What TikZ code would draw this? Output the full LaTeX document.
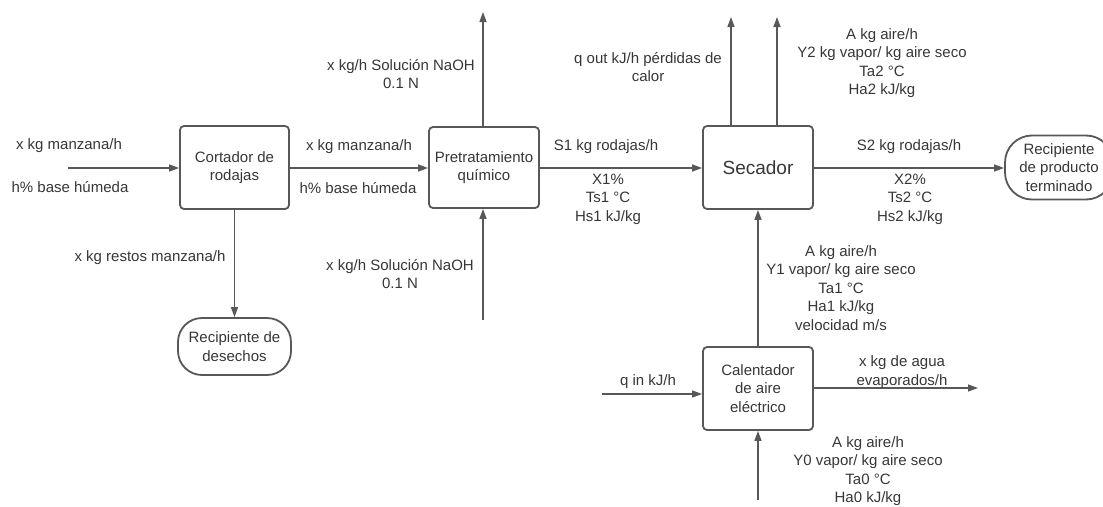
\documentclass[tikz,border=0pt]{standalone}
\usepackage{fontspec}
\setmainfont{Liberation Sans}
\usetikzlibrary{arrows.meta}
\definecolor{linec}{RGB}{88,88,88}
\definecolor{textc}{RGB}{55,55,55}
\tikzset{
  unit/.style={draw=linec, line width=1.8pt, rounded corners=4pt, text=textc,
    align=center, inner sep=2pt, font=\fontsize{15}{18.5}\selectfont},
  term/.style={draw=linec, line width=1.8pt, text=textc,
    align=center, inner sep=2pt, font=\fontsize{15}{18.5}\selectfont},
  lab/.style={text=textc, align=center, inner sep=0pt,
    font=\fontsize{15}{18.5}\selectfont},
  flow/.style={draw=linec, line width=1.4pt,
    -{Triangle[length=10pt,width=7pt]}}
}
\begin{document}
\begin{tikzpicture}[x=1pt,y=-1pt]
\useasboundingbox (0,0) rectangle (1103,506);
\clip (0,0) rectangle (1103,506);
\fill[white] (0,0) rectangle (1103,506);

% process units
\node[unit, minimum width=109pt, minimum height=83pt] (cort) at (234.5,167.5) {Cortador de\\rodajas};
\node[unit, minimum width=110pt, minimum height=81pt] (pre) at (484,167.5) {Pretratamiento\\químico};
\node[unit, minimum width=110pt, minimum height=83pt, font=\fontsize{19}{22}\selectfont] (sec) at (758,167.5) {Secador};
\node[unit, minimum width=110pt, minimum height=83pt] (cal) at (758,388.5) {Calentador\\de aire\\eléctrico};

% containers
\node[term, rounded corners=24pt, minimum width=113pt, minimum height=57pt] (des) at (234.5,346.5) {Recipiente de\\desechos};
\node[term, rounded corners=27pt, minimum width=108pt, minimum height=64pt] (prod) at (1059,167.5) {Recipiente\\de producto\\terminado};

% free ends of the streams
\coordinate (cin) at (68,168);
\coordinate (naohout) at (483,12);
\coordinate (naohin) at (483,320);
\coordinate (qout) at (731,17);
\coordinate (airout) at (777,17);
\coordinate (qin) at (602,394);
\coordinate (evap) at (978,388);
\coordinate (air0) at (758,500);

% streams
\draw[flow] (cin) -- (cin -| cort.west);
\draw[flow] (cort.east |- cin) -- (pre.west |- cin);
\draw[flow] (pre.east |- cin) -- (sec.west |- cin);
\draw[flow] (sec.east |- cin) -- (prod.west |- cin);
\draw[flow] (cort.south) -- (des.north);
\draw[flow] (naohout |- pre.north) -- (naohout);
\draw[flow] (naohin) -- (naohin |- pre.south);
\draw[flow] (qout |- sec.north) -- (qout);
\draw[flow] (airout |- sec.north) -- (airout);
\draw[flow] (cal.north) -- (sec.south);
\draw[flow] (qin) -- (qin -| cal.west);
\draw[flow] (cal.east |- evap) -- (evap);
\draw[flow] (air0) -- (cal.south);

% stream labels
\node[lab] (l1) at (69,146) {x kg manzana/h};
\node[lab] (l2) at (70,187) {h\% base húmeda};
\node[lab] (l3) at (359,147) {x kg manzana/h};
\node[lab] (l4) at (358,188) {h\% base húmeda};
\node[lab] (l5) at (401,74) {x kg/h Solución NaOH\\0.1 N};
\node[lab] (l6) at (400,274) {x kg/h Solución NaOH\\0.1 N};
\node[lab] (l7) at (150,258) {x kg restos manzana/h};
\node[lab] (l8) at (606,147) {S1 kg rodajas/h};
\node[lab] (l9) at (608,199) {X1\%\\Ts1 °C\\Hs1 kJ/kg};
\node[lab] (l10) at (648,67) {q out kJ/h pérdidas de\\calor};
\node[lab] (l11) at (882,63) {A kg aire/h\\Y2 kg vapor/ kg aire seco\\Ta2 °C\\Ha2 kJ/kg};
\node[lab] (l12) at (909,147) {S2 kg rodajas/h};
\node[lab] (l13) at (910,199) {X2\%\\Ts2 °C\\Hs2 kJ/kg};
\node[lab] (l14) at (841,288) {A kg aire/h\\Y1 vapor/ kg aire seco\\Ta1 °C\\Ha1 kJ/kg\\velocidad m/s};
\node[lab] (l15) at (648,382) {q in kJ/h};
\node[lab] (l16) at (902,372) {x kg de agua\\evaporados/h};
\node[lab] (l17) at (868,471) {A kg aire/h\\Y0 vapor/ kg aire seco\\Ta0 °C\\Ha0 kJ/kg};
\end{tikzpicture}
\end{document}
